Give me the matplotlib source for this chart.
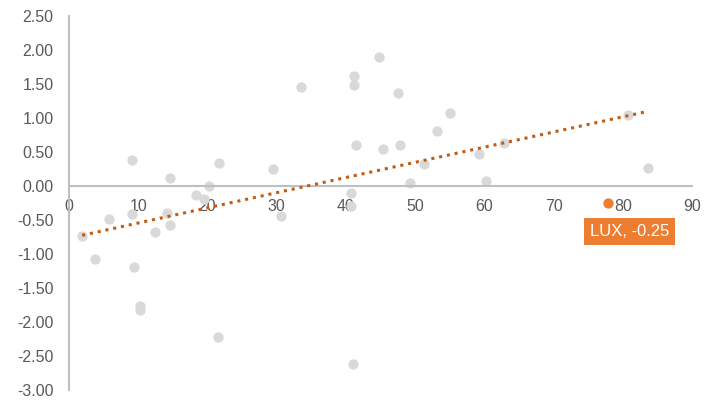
import numpy as np
import matplotlib
matplotlib.use("Agg")
import matplotlib.pyplot as plt

plt.rcParams['font.family'] = ['Liberation Sans', 'DejaVu Sans']

# 数据
x_vals = [1.9, 3.8, 5.8, 9.1, 9.1, 9.4, 10.3, 10.2, 12.4, 14.6, 14.2, 14.6,
          18.4, 20.2, 19.5, 21.7, 21.5, 29.5, 30.6, 33.5, 41.2, 41.1, 41.4,
          40.8, 40.8, 41.0, 44.8, 47.5, 45.4, 47.8, 49.3, 51.3, 53.2, 55.1,
          59.3, 60.2, 62.9, 80.8, 83.6]
y_vals = [-0.74, -1.07, -0.49, 0.38, -0.41, -1.19, -1.76, -1.83, -0.68, 0.12,
          -0.40, -0.57, -0.13, 0.00, -0.19, 0.34, -2.22, 0.25, -0.44, 1.46,
          1.62, 1.49, 0.60, -0.10, -0.30, -2.62, 1.90, 1.37, 0.54, 0.60, 0.04,
          0.32, 0.81, 1.07, 0.47, 0.07, 0.63, 1.04, 0.26]
hl_label = 'LUX'
hl_x = 77.8
hl_y = -0.25

x_ticks = [0, 10, 20, 30, 40, 50, 60, 70, 80, 90]
y_ticks = [2.5, 2.0, 1.5, 1.0, 0.5, 0.0, -0.5, -1.0, -1.5, -2.0, -2.5, -3.0]

fig = plt.figure(figsize=(7.05, 4.03), dpi=100)
ax = fig.add_axes([69 / 705, 1 - 390 / 403, (692 - 69) / 705, (390 - 16) / 403])

ax.scatter(x_vals, y_vals, s=55, color='#D9D9D9', zorder=2, linewidths=0)
ax.scatter([hl_x], [hl_y], s=55, color='#ED7D31', zorder=3, linewidths=0)

# 线性趋势线
all_x = np.array(x_vals + [hl_x])
all_y = np.array(y_vals + [hl_y])
k, b = np.polyfit(all_x, all_y, 1)
tx = np.array([all_x.min(), all_x.max()])
ax.plot(tx, k * tx + b, color='#C55A11', linestyle=(0, (1, 1.6)), linewidth=2.2,
        zorder=4)

ax.annotate(f'{hl_label}, {hl_y:.2f}', xy=(hl_x, hl_y), xytext=(16, -20.5),
            textcoords='offset points', ha='center', va='center', color='white',
            fontsize=12,
            bbox=dict(boxstyle='square,pad=0.35', fc='#ED7D31', ec='none'))

ax.set_xlim(0, 90)
ax.set_ylim(-3.0, 2.5)
ax.set_xticks(x_ticks)
ax.set_yticks(y_ticks)
ax.set_yticklabels([f'{v:.2f}' for v in y_ticks])
ax.spines['bottom'].set_position(('data', 0))
for s in ['top', 'right']:
    ax.spines[s].set_visible(False)
for s in ['left', 'bottom']:
    ax.spines[s].set_color('#BFBFBF')
    ax.spines[s].set_linewidth(1.5)
ax.tick_params(axis='both', length=0, colors='#595959', labelsize=11.5)
ax.tick_params(axis='y', pad=11)
ax.tick_params(axis='x', pad=9)

plt.savefig('out.png', dpi=100)
